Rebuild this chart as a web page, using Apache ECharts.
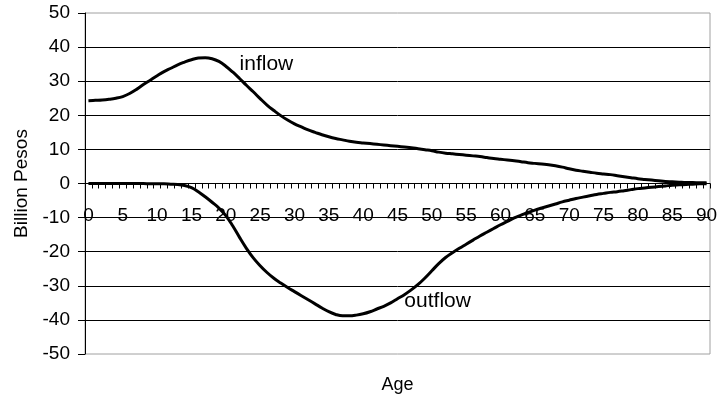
<!DOCTYPE html>
<html>
<head>
<meta charset="utf-8">
<script src="https://cdn.jsdelivr.net/npm/echarts@6/dist/echarts.min.js"></script>
<style>
html,body{margin:0;padding:0;background:#fff;}
#chart{width:717px;height:400px;}
</style>
</head>
<body>
<div id="chart"></div>
<script>
var ages = [];
for (var a = 0; a <= 90; a++) ages.push(String(a));

var inflow = [
  24.3, 24.4, 24.5, 24.7, 25.0, 25.5, 26.4, 27.6, 29.0, 30.3,
  31.6, 32.8, 33.8, 34.8, 35.6, 36.3, 36.8, 36.9, 36.6, 35.8,
  34.4, 32.7, 30.8, 28.8, 26.9, 24.9, 23.0, 21.4, 19.9, 18.6,
  17.5, 16.6, 15.7, 15.0, 14.3, 13.7, 13.2, 12.8, 12.4, 12.1,
  11.9, 11.7, 11.5, 11.3, 11.1, 10.9, 10.7, 10.5, 10.2, 9.9,
  9.6, 9.2, 8.9, 8.7, 8.5, 8.3, 8.1, 7.9, 7.6, 7.3,
  7.1, 6.9, 6.7, 6.4, 6.1, 5.9, 5.7, 5.5, 5.2, 4.8,
  4.3, 3.9, 3.6, 3.3, 3.0, 2.8, 2.6, 2.3, 2.0, 1.7,
  1.4, 1.2, 1.0, 0.8, 0.6, 0.5, 0.4, 0.3, 0.3, 0.2,
  0.2
];

var outflow = [
  0.0, 0.0, 0.0, 0.0, 0.0, 0.0, 0.0, 0.0, 0.0, -0.1,
  -0.1, -0.1, -0.2, -0.3, -0.6, -1.2, -2.4, -3.9, -5.5, -7.2,
  -9.4, -12.4, -15.8, -19.0, -21.8, -24.1, -26.1, -27.8, -29.2, -30.5,
  -31.7, -32.9, -34.1, -35.3, -36.5, -37.6, -38.4, -38.8, -38.8, -38.6,
  -38.2, -37.6, -36.8, -36.0, -35.0, -33.8, -32.6, -31.2, -29.6, -27.7,
  -25.6, -23.5, -21.7, -20.3, -19.0, -17.8, -16.6, -15.4, -14.3, -13.2,
  -12.1, -11.1, -10.1, -9.3, -8.5, -7.8, -7.2, -6.6, -6.0, -5.4,
  -4.9, -4.4, -4.0, -3.6, -3.2, -2.9, -2.6, -2.4, -2.1, -1.8,
  -1.5, -1.3, -1.1, -0.9, -0.7, -0.5, -0.4, -0.3, -0.2, -0.1,
  -0.1
];

var yMin = -50, yMax = 50, yStep = 10;
var inflowLabelAt = ['22', 35];
var outflowLabelAt = ['46', -34.5];

var FONT = '"Liberation Sans", Arial, sans-serif';
var chart = echarts.init(document.getElementById('chart'), null, {renderer: 'canvas'});

chart.setOption({
  animation: false,
  backgroundColor: '#ffffff',
  textStyle: {fontFamily: FONT, color: '#000'},
  grid: {
    left: 85, right: 7, top: 13, bottom: 46,
    show: true, borderColor: '#a0a0a0', borderWidth: 1,
    containLabel: false,
    outerBoundsMode: 'none'
  },
  xAxis: {
    type: 'category',
    data: ages,
    boundaryGap: true,
    name: 'Age',
    nameLocation: 'middle',
    nameGap: 22,
    nameTextStyle: {fontFamily: FONT, fontSize: 18, color: '#000'},
    axisLine: {onZero: true, lineStyle: {color: '#000', width: 1}},
    axisTick: {show: true, interval: 0, length: 5, inside: false, lineStyle: {color: '#000', width: 1}},
    axisLabel: {interval: 4, margin: -148, fontFamily: FONT, fontSize: 19, color: '#000', hideOverlap: false},
    splitLine: {show: false}
  },
  yAxis: {
    type: 'value',
    min: yMin, max: yMax, interval: yStep,
    name: 'Billion Pesos',
    nameLocation: 'middle',
    nameGap: 54,
    nameRotate: 90,
    nameTextStyle: {fontFamily: FONT, fontSize: 19, color: '#000'},
    axisLine: {show: true, lineStyle: {color: '#000', width: 1}},
    axisTick: {show: true, length: 7, lineStyle: {color: '#000', width: 1}},
    axisLabel: {margin: 15, fontFamily: FONT, fontSize: 19, color: '#000',
                showMinLabel: true, showMaxLabel: true, hideOverlap: false},
    splitLine: {show: true, showMinLine: false, showMaxLine: false, lineStyle: {color: '#000', width: 1}}
  },
  series: [
    {
      name: 'inflow',
      type: 'line',
      data: inflow,
      smooth: 0.4,
      showSymbol: false,
      symbol: 'none',
      lineStyle: {color: '#000', width: 3},
      z: 5,
      markPoint: {
        symbol: 'circle', symbolSize: 0,
        itemStyle: {color: 'transparent'},
        label: {show: true, position: 'right', distance: 0, formatter: 'inflow',
                fontFamily: FONT, fontSize: 21, color: '#000'},
        data: [{coord: inflowLabelAt}]
      }
    },
    {
      name: 'outflow',
      type: 'line',
      data: outflow,
      smooth: 0.4,
      showSymbol: false,
      symbol: 'none',
      lineStyle: {color: '#000', width: 3},
      z: 5,
      markPoint: {
        symbol: 'circle', symbolSize: 0,
        itemStyle: {color: 'transparent'},
        label: {show: true, position: 'right', distance: 0, formatter: 'outflow',
                fontFamily: FONT, fontSize: 21, color: '#000'},
        data: [{coord: outflowLabelAt}]
      }
    }
  ]
});
</script>
</body>
</html>
